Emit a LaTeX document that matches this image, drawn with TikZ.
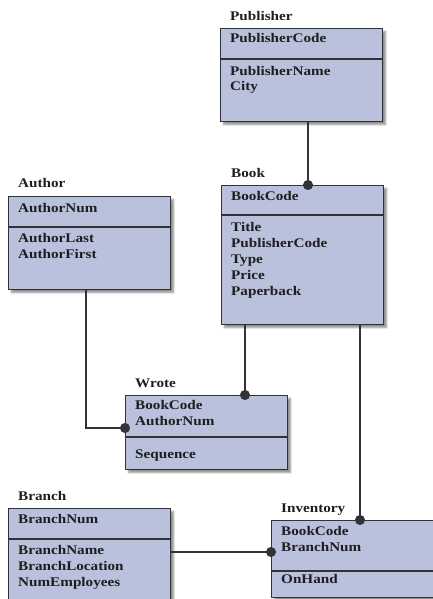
\documentclass[tikz,border=0pt]{standalone}
\usepackage{fontspec}
\setmainfont{Liberation Serif}[FakeStretch=1.15]
\usetikzlibrary{arrows.meta, shadows.blur}

\definecolor{entityfill}{RGB}{186,193,221}
\definecolor{entityline}{RGB}{50,50,55}
\definecolor{entitytext}{RGB}{30,30,30}

\tikzset{
  entity/.style = {draw=entityline, fill=entityfill, line width=1.1pt, anchor=north west,
    minimum width=162pt, inner sep=0pt,
    blur shadow={shadow xshift=3pt, shadow yshift=-3pt, shadow blur steps=6, shadow opacity=45}},
  divider/.style = {draw=entityline, line width=1.1pt},
  field/.style = {anchor=base west, inner sep=0pt, align=left, text=entitytext,
    font=\fontsize{13.2}{15.8}\selectfont\bfseries},
  link/.style = {draw=entityline, line width=1.1pt, -{Circle[length=10pt]}, shorten >=-5pt}
}

\begin{document}
\begin{tikzpicture}[x=1pt, y=-1pt]
%\draw[help lines, color=gray!30] (0,0) grid[step=20pt] (432,599);
\useasboundingbox (0,0) rectangle (432,599);
% multi-line fields sit on the baseline of their last line

% Publisher
\node [entity, minimum height=93pt] (publisher) at (220,28) {};
\draw [divider] ([yshift=-31pt]publisher.north west) -- ([yshift=-31pt]publisher.north east);
\node [field] (publishertitle) at (230,21) {Publisher};
\node [field] (publisherkey) at (230,43) {PublisherCode};
\node [field] (publisherattr) at (230,91) {PublisherName\\City};

% Book
\node [entity, minimum height=139pt] (book) at (221,185) {};
\draw [divider] ([yshift=-30pt]book.north west) -- ([yshift=-30pt]book.north east);
\node [field] (booktitle) at (231,177) {Book};
\node [field] (bookkey) at (231,200) {BookCode};
\node [field] (bookattr) at (231,295) {Title\\PublisherCode\\Type\\Price\\Paperback};

% Author
\node [entity, minimum height=93pt] (author) at (8,196) {};
\draw [divider] ([yshift=-31pt]author.north west) -- ([yshift=-31pt]author.north east);
\node [field] (authortitle) at (18,187) {Author};
\node [field] (authorkey) at (18,212) {AuthorNum};
\node [field] (authorattr) at (18,258) {AuthorLast\\AuthorFirst};

% Wrote
\node [entity, minimum height=74pt] (wrote) at (125,395) {};
\draw [divider] ([yshift=-42pt]wrote.north west) -- ([yshift=-42pt]wrote.north east);
\node [field] (wrotetitle) at (135,387) {Wrote};
\node [field] (wrotekey) at (135,425) {BookCode\\AuthorNum};
\node [field] (wroteattr) at (135,458) {Sequence};

% Branch
\node [entity, minimum height=100pt] (branch) at (8,508) {};
\draw [divider] ([yshift=-31pt]branch.north west) -- ([yshift=-31pt]branch.north east);
\node [field] (branchtitle) at (18,500) {Branch};
\node [field] (branchkey) at (18,523) {BranchNum};
\node [field] (branchattr) at (18,586) {BranchName\\BranchLocation\\NumEmployees};

% Inventory
\node [entity, minimum height=77pt] (inventory) at (271,520) {};
\draw [divider] ([yshift=-51pt]inventory.north west) -- ([yshift=-51pt]inventory.north east);
\node [field] (inventorytitle) at (281,512) {Inventory};
\node [field] (inventorykey) at (281,551) {BookCode\\BranchNum};
\node [field] (inventoryattr) at (281,583) {OnHand};

% links
\draw [link] (publisher.south -| 308,0) -- (book.north -| 308,0);
\draw [link] (book.south -| 245,0) -- (wrote.north -| 245,0);
\draw [link] (author.south -| 86,0) |- (wrote.west |- 0,428);
\draw [link] (book.south -| 360,0) -- (inventory.north -| 360,0);
\draw [link] (branch.east |- 0,552) -- (inventory.west |- 0,552);

\end{tikzpicture}
\end{document}
